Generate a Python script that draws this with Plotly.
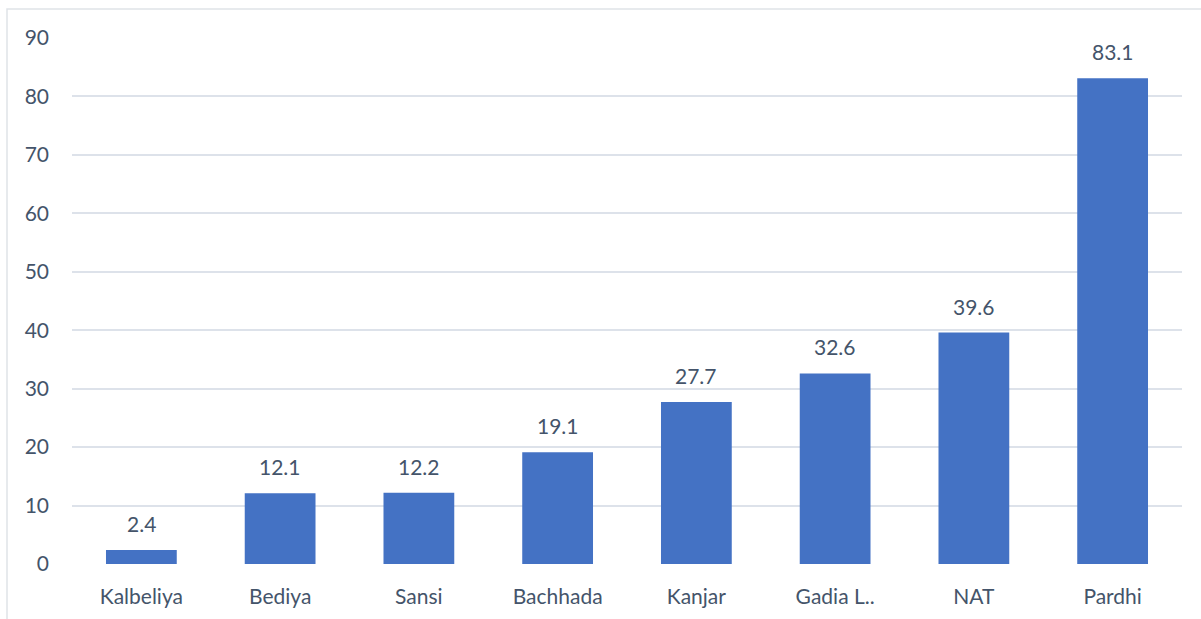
import plotly.graph_objects as go

categories = ["Kalbeliya", "Bediya", "Sansi", "Bachhada", "Kanjar", "Gadia L..", "NAT", "Pardhi"]
values = [2.4, 12.1, 12.2, 19.1, 27.7, 32.6, 39.6, 83.1]
y_ticks = [0, 10, 20, 30, 40, 50, 60, 70, 80, 90]

W, H = 1201, 619
ml, mr, mt, mb = 72, 19, 38, 55
pw, ph = W - ml - mr, H - mt - mb
FONT = "Lato, Open Sans, sans-serif"
TXT = "#44546a"

fig = go.Figure()
fig.add_trace(go.Bar(
    x=categories, y=values, width=0.51,
    marker=dict(color="#4472c4", line=dict(width=0)),
    hoverinfo="skip",
))

annotations = [
    dict(x=c, y=v, text=f"{v:.1f}", showarrow=False, xref="x", yref="y",
         yanchor="bottom", yshift=12, font=dict(family=FONT, size=21, color=TXT))
    for c, v in zip(categories, values)
]

fig.update_layout(
    width=W, height=H,
    margin=dict(l=ml, r=mr, t=mt, b=mb, autoexpand=False),
    paper_bgcolor="white", plot_bgcolor="white",
    showlegend=False,
    font=dict(family=FONT, size=21, color=TXT),
    xaxis=dict(showgrid=False, showline=False, ticks="", ticklabelstandoff=18,
               automargin=False, tickfont=dict(family=FONT, size=21, color=TXT)),
    yaxis=dict(range=[0, 90], tickvals=y_ticks, showgrid=True, gridcolor="#dde2ea",
               gridwidth=1.5, zeroline=False, showline=False, ticks="",
               automargin=False, ticklabelstandoff=22,
               tickfont=dict(family=FONT, size=21, color=TXT)),
    annotations=annotations,
    shapes=[dict(type="rect", xref="paper", yref="paper",
                 x0=(7 - ml) / pw, x1=(W + 5 - ml) / pw,
                 y0=-(mb + 5) / ph, y1=1 + (mt - 9) / ph,
                 line=dict(color="#dfe3e8", width=1.5), fillcolor="rgba(0,0,0,0)",
                 layer="below")],
)

fig.write_html("out.html", config={"displayModeBar": False},
               post_script="document.body.style.margin='0';")
